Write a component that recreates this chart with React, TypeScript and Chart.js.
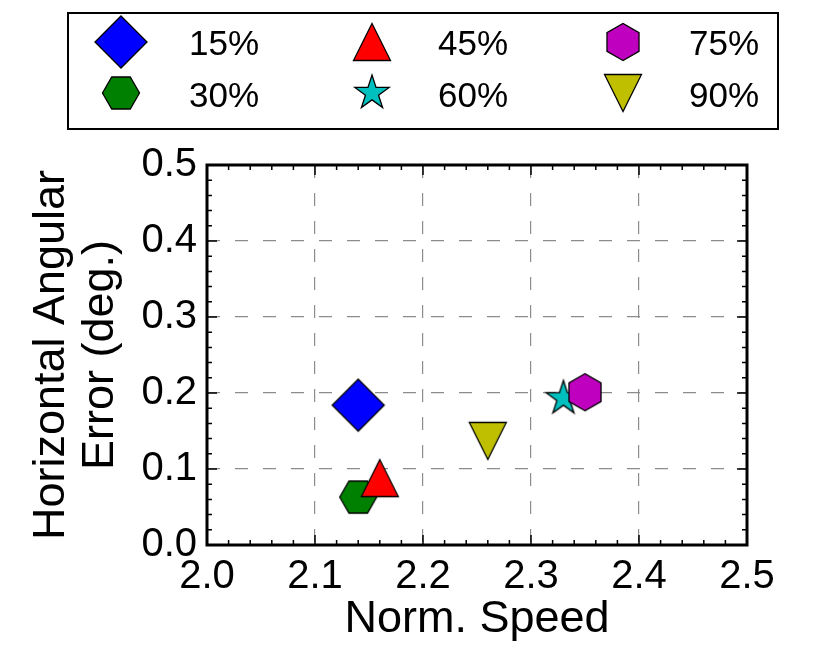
import { Chart, registerables } from "chart.js";
import React, { useEffect, useRef } from "react";

Chart.register(...registerables);

// values
const labels = ["15%", "30%", "45%", "60%", "75%", "90%"];
const speeds = [2.14, 2.14, 2.16, 2.33, 2.35, 2.26];
const errors = [0.184, 0.063, 0.088, 0.193, 0.201, 0.137];
const xTicks = [2.0, 2.1, 2.2, 2.3, 2.4, 2.5];
const yTicks = [0.0, 0.1, 0.2, 0.3, 0.4, 0.5];

type Shape = "diamond" | "hexFlat" | "hexTall" | "triUp" | "triDown" | "star";
const shapes: Shape[] = ["diamond", "hexFlat", "triUp", "star", "hexTall", "triDown"];
const colors = ["#0000ff", "#008000", "#ff0000", "#00bfbf", "#bf00bf", "#bfbf00"];

const FONT = '"Liberation Sans", Arial, Helvetica, sans-serif';

function makeMarker(shape: Shape, fill: string): HTMLCanvasElement {
  const size = 60;
  const c = document.createElement("canvas");
  c.width = size;
  c.height = size;
  const g = c.getContext("2d")!;
  g.translate(size / 2, size / 2);
  const pts: [number, number][] = [];
  if (shape === "diamond") {
    pts.push([0, -26], [26, 0], [0, 26], [-26, 0]);
  } else if (shape === "hexFlat") {
    for (let i = 0; i < 6; i++) {
      const a = (i * Math.PI) / 3;
      pts.push([18.5 * Math.cos(a), 18.5 * Math.sin(a)]);
    }
  } else if (shape === "hexTall") {
    for (let i = 0; i < 6; i++) {
      const a = Math.PI / 2 + (i * Math.PI) / 3;
      pts.push([18.5 * Math.cos(a), 18.5 * Math.sin(a)]);
    }
  } else if (shape === "triUp") {
    pts.push([0, -18.5], [18.5, 18.5], [-18.5, 18.5]);
  } else if (shape === "triDown") {
    pts.push([0, 18.5], [-18.5, -18.5], [18.5, -18.5]);
  } else {
    for (let i = 0; i < 10; i++) {
      const a = -Math.PI / 2 + (i * Math.PI) / 5;
      const r = i % 2 ? 18 * 0.382 : 18;
      pts.push([r * Math.cos(a), r * Math.sin(a)]);
    }
  }
  g.beginPath();
  pts.forEach(([x, y], i) => (i ? g.lineTo(x, y) : g.moveTo(x, y)));
  g.closePath();
  g.fillStyle = fill;
  g.fill();
  g.lineWidth = 1.3;
  g.strokeStyle = "#000";
  g.stroke();
  return c;
}

const gridColor = (c: any) =>
  c.index === 0 || c.index === c.scale.ticks.length - 1 ? "rgba(0,0,0,0)" : "#8c8c8c";

const App = () => {
  const chartRef = useRef<HTMLCanvasElement | null>(null);

  useEffect(() => {
    if (!chartRef.current) return;
    const markers = labels.map((_, i) => makeMarker(shapes[i], colors[i]));

    const framePlugin = {
      id: "frame",
      beforeDatasetsDraw(chart: any) {
        const { ctx, chartArea: a, scales } = chart;
        const x = scales.x;
        const y = scales.y;
        ctx.save();
        ctx.strokeStyle = "#000";
        ctx.lineWidth = 1.5;
        ctx.beginPath();
        // minor ticks every 0.02, major at 0.1
        for (let k = 0; k <= 25; k++) {
          const px = x.getPixelForValue(xTicks[0] + k * 0.02);
          const len = k % 5 === 0 ? 10 : 5;
          ctx.moveTo(px, a.bottom);
          ctx.lineTo(px, a.bottom - len);
          ctx.moveTo(px, a.top);
          ctx.lineTo(px, a.top + len);
        }
        for (let k = 0; k <= 25; k++) {
          const py = y.getPixelForValue(yTicks[0] + k * 0.02);
          const len = k % 5 === 0 ? 10 : 5;
          ctx.moveTo(a.left, py);
          ctx.lineTo(a.left + len, py);
          ctx.moveTo(a.right, py);
          ctx.lineTo(a.right - len, py);
        }
        ctx.stroke();
        ctx.lineWidth = 3;
        ctx.strokeRect(a.left, a.top, a.right - a.left, a.bottom - a.top);
        ctx.restore();
      },
      afterDraw(chart: any) {
        const ctx = chart.ctx;
        const markerX = [121, 372, 623];
        const textX = [189, 438, 689];
        const rowY = [42, 93];
        const baseY = [55, 107];
        ctx.save();
        ctx.fillStyle = "#fff";
        ctx.fillRect(68, 13, 710, 116);
        ctx.strokeStyle = "#000";
        ctx.lineWidth = 2;
        ctx.strokeRect(68, 13, 710, 116);
        ctx.font = `35px ${FONT}`;
        ctx.fillStyle = "#000";
        ctx.textBaseline = "alphabetic";
        labels.forEach((lab, i) => {
          const col = Math.floor(i / 2);
          const row = i % 2;
          const m = markers[i];
          ctx.drawImage(m, markerX[col] - m.width / 2, rowY[row] - m.height / 2);
          ctx.fillText(lab, textX[col], baseY[row]);
        });
        ctx.restore();
      },
    };

    const chart = new Chart(chartRef.current, {
      type: "scatter",
      data: {
        datasets: labels.map((lab, i) => ({
          label: lab,
          data: [{ x: speeds[i], y: errors[i] }],
          pointStyle: markers[i] as any,
          pointRadius: 18,
          order: labels.length - i,
        })),
      },
      options: {
        animation: false,
        responsive: false,
        events: [],
        layout: { padding: { top: 165, right: 83, bottom: 0, left: 0 } },
        plugins: { legend: { display: false }, tooltip: { enabled: false } },
        scales: {
          x: {
            type: "linear",
            min: xTicks[0],
            max: xTicks[xTicks.length - 1],
            afterFit: (s: any) => {
              s.height = 119;
            },
            afterBuildTicks: (s: any) => {
              s.ticks = xTicks.map((v) => ({ value: v }));
            },
            ticks: {
              callback: (v: any) => Number(v).toFixed(1),
              font: { family: FONT, size: 40 },
              color: "#000",
              padding: 8,
              maxRotation: 0,
              autoSkip: false,
            },
            grid: { color: gridColor, lineWidth: 1.2, drawTicks: false },
            border: { display: false, dash: [13, 15] },
            title: {
              display: true,
              text: "Norm. Speed",
              color: "#000",
              font: { family: FONT, size: 45 },
              padding: { top: 0, bottom: 17 },
            },
          },
          y: {
            type: "linear",
            min: yTicks[0],
            max: yTicks[yTicks.length - 1],
            afterFit: (s: any) => {
              s.width = 207;
            },
            afterBuildTicks: (s: any) => {
              s.ticks = yTicks.map((v) => ({ value: v }));
            },
            ticks: {
              callback: (v: any) => Number(v).toFixed(1),
              font: { family: FONT, size: 40 },
              color: "#000",
              padding: 10,
            },
            grid: { color: gridColor, lineWidth: 1.2, drawTicks: false },
            border: { display: false, dash: [13, 15] },
            title: {
              display: true,
              text: ["Horizontal Angular", "Error (deg.)"],
              color: "#000",
              font: { family: FONT, size: 45, lineHeight: 1.09 },
              padding: { top: 27, bottom: 0 },
            },
          },
        },
      },
      plugins: [framePlugin],
    });

    return () => chart.destroy();
  }, []);

  return (
    <div style={{ position: "fixed", left: 0, top: 0, width: 830, height: 664, background: "#fff" }}>
      <canvas ref={chartRef} width={830} height={664} style={{ width: 830, height: 664 }}></canvas>
    </div>
  );
};

export default App;
